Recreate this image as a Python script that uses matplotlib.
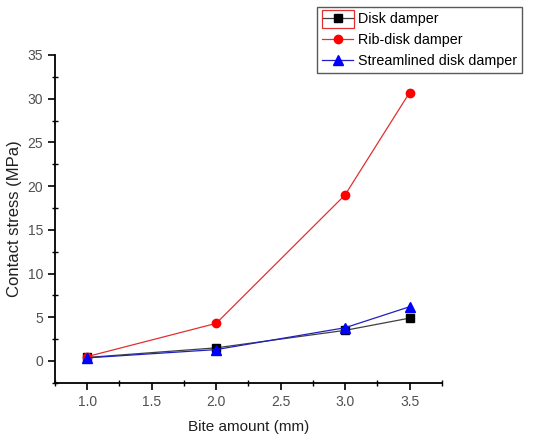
import numpy as np
import matplotlib
matplotlib.use('Agg')
import matplotlib.pyplot as plt
from matplotlib.ticker import MultipleLocator
from matplotlib.patches import Rectangle

plt.rcParams['font.family'] = ['Liberation Sans', 'DejaVu Sans']

bite = [1.0, 2.0, 3.0, 3.5]
disk = [0.4, 1.5, 3.5, 4.9]
rib_disk = [0.5, 4.3, 19.0, 30.7]
streamlined = [0.35, 1.3, 3.8, 6.2]

fig = plt.figure(figsize=(5.53, 4.36), dpi=100)
ax = fig.add_axes([0.0995, 0.122, 0.6995, 0.752])

ax.plot(bite, disk, color='#404040', lw=0.9, marker='s', ms=5.5,
        mfc='black', mec='black', label='Disk damper')
ax.plot(bite, rib_disk, color='#e03030', lw=0.9, marker='o', ms=6,
        mfc='red', mec='red', label='Rib-disk damper')
ax.plot(bite, streamlined, color='#2020c0', lw=0.9, marker='^', ms=6.5,
        mfc='blue', mec='blue', label='Streamlined disk damper')

ax.set_xlim(0.75, 3.75)
ax.set_ylim(-2.5, 35)
ax.xaxis.set_minor_locator(MultipleLocator(0.25))
ax.yaxis.set_major_locator(MultipleLocator(5))
ax.yaxis.set_minor_locator(MultipleLocator(2.5))
ax.set_xticks([1.0, 1.5, 2.0, 2.5, 3.0, 3.5])
ax.set_xticklabels(['1.0', '1.5', '2.0', '2.5', '3.0', '3.5'])

for s in ['top', 'right']:
    ax.spines[s].set_visible(False)
for s in ['left', 'bottom']:
    ax.spines[s].set_linewidth(1.3)

ax.tick_params(which='major', direction='out', length=5, width=1.2,
               labelsize=10, labelcolor='#505050')
ax.tick_params(which='minor', direction='inout', length=4, width=1.0)

ax.set_xlabel('Bite amount (mm)', fontsize=11, color='#202020', labelpad=8)
ax.set_ylabel('Contact stress (MPa)', fontsize=12, color='#202020', labelpad=4)

leg = fig.legend(loc='upper left', bbox_to_anchor=(0.573, 0.985), fontsize=10.3,
                 frameon=True, fancybox=False, edgecolor='#303030',
                 borderpad=0.35, labelspacing=0.5, handlelength=2.2,
                 handletextpad=0.35, borderaxespad=0)
leg.get_frame().set_linewidth(1.0)

# red selection box around the first legend handle
sel = Rectangle((322 / 553, 1 - 28 / 436), 32 / 553, 18 / 436,
                transform=fig.transFigure, fill=False,
                edgecolor='#e03030', lw=0.9, zorder=10)
fig.add_artist(sel)

fig.savefig('out.png', dpi=100, facecolor='white')
